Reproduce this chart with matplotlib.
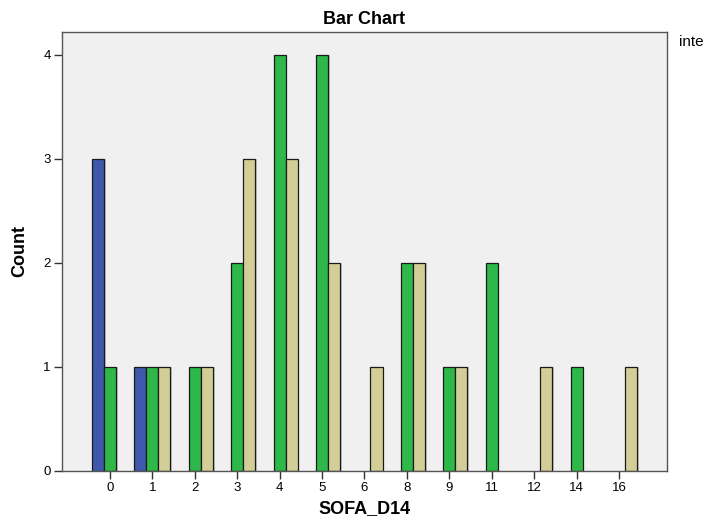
import numpy as np
import matplotlib
matplotlib.use("Agg")
import matplotlib.pyplot as plt

plt.rcParams['font.family'] = ['Liberation Sans', 'DejaVu Sans']

categories = ['0', '1', '2', '3', '4', '5', '6', '8', '9', '11', '12', '14', '16']
blue_counts = [3, 1, 0, 0, 0, 0, 0, 0, 0, 0, 0, 0, 0]
green_counts = [1, 1, 1, 2, 4, 4, 0, 2, 1, 2, 0, 1, 0]
tan_counts = [0, 1, 1, 3, 3, 2, 1, 2, 1, 0, 1, 0, 1]

colors = ['#3F58AC', '#2EB84A', '#D3CE97']
series = [blue_counts, green_counts, tan_counts]

fig = plt.figure(figsize=(7.07, 5.21), dpi=100)
ax = fig.add_axes([0.0877, 0.096, 0.8557, 0.8426])
ax.set_facecolor('#F0F0F0')

x = np.arange(len(categories))
w = 0.283
offsets = [-w, 0, w]
for vals, off, col in zip(series, offsets, colors):
    vals = np.array(vals)
    mask = vals > 0
    # soft drop shadow
    ax.bar(x[mask] + off + 0.04, vals[mask], width=w, color='#A8A8A8',
           alpha=0.6, linewidth=0, zorder=1)
    ax.bar(x[mask] + off, vals[mask], width=w, color=col,
           edgecolor='#1A1A1A', linewidth=0.9, zorder=2)

ax.set_xlim(-1.13, 13.13)
ax.set_ylim(0, 4.22)
ax.set_xticks(x)
ax.set_xticklabels(categories, fontsize=9.5)
ax.set_yticks([0, 1, 2, 3, 4])
ax.set_yticklabels(['0', '1', '2', '3', '4'], fontsize=9.5)
ax.tick_params(axis='both', direction='out', length=6, width=1, color='#333333', pad=2)
for s in ax.spines.values():
    s.set_color('#555555')
    s.set_linewidth(1.0)

ax.set_xlabel('SOFA_D14', fontsize=13, fontweight='bold', labelpad=4)
ax.set_ylabel('Count', fontsize=13, fontweight='bold', labelpad=11)
ax.set_title('Bar Chart', fontsize=13, fontweight='bold', pad=6)

fig.text(0.960, 0.919, 'inte', fontsize=11, ha='left', va='center')

fig.savefig('out.png', dpi=100)
